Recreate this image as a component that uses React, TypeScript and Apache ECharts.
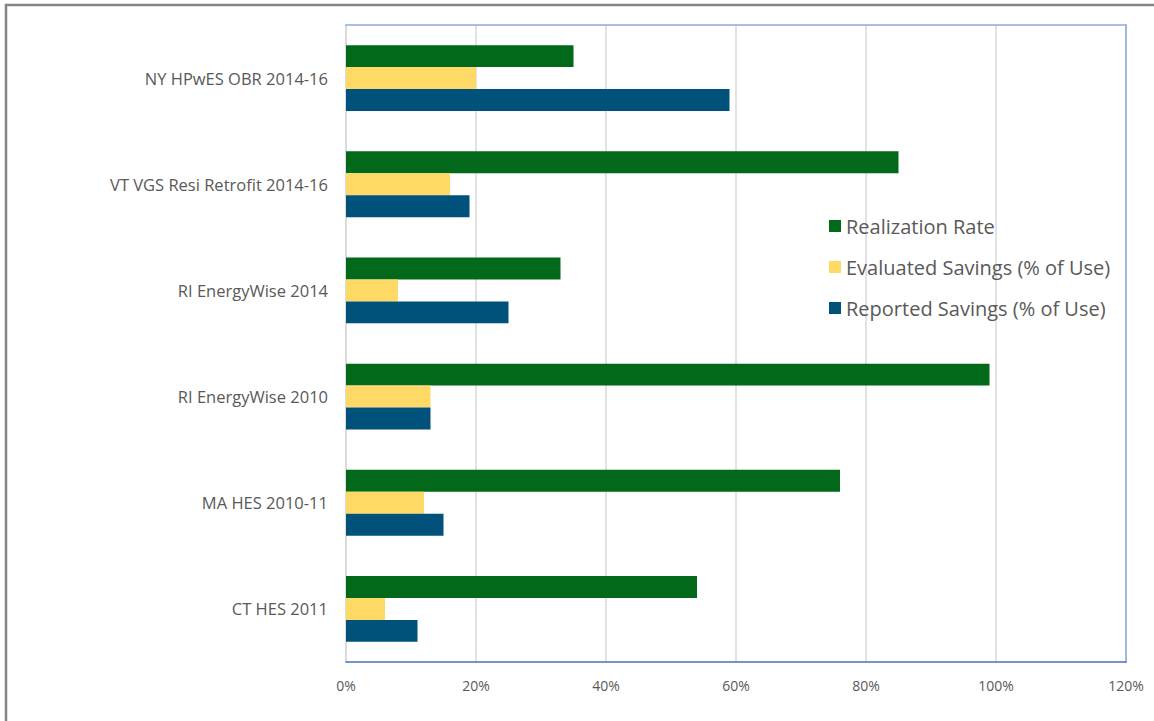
import React, { useEffect, useRef } from "react";
import * as echarts from "echarts";

const categories = [
  "CT HES 2011",
  "MA HES 2010-11",
  "RI EnergyWise 2010",
  "RI EnergyWise 2014",
  "VT VGS Resi Retrofit 2014-16",
  "NY HPwES OBR 2014-16",
];
const reportedSavings = [11, 15, 13, 25, 19, 59];
const evaluatedSavings = [6, 12, 13, 8, 16, 20];
const realizationRate = [54, 76, 99, 33, 85, 35];
const xTicks = { min: 0, max: 120, interval: 20 };

const FONT = "'Open Sans', 'Noto Sans', sans-serif";
const TEXT = "#595959";

export default function App() {
  const ref = useRef<HTMLDivElement>(null);
  useEffect(() => {
    if (!ref.current) return;
    const chart = echarts.init(ref.current, undefined, { renderer: "svg" });
    chart.setOption({
      animation: false,
      backgroundColor: "#ffffff",
      textStyle: { fontFamily: FONT },
      graphic: [
        {
          type: "rect",
          shape: { x: 6, y: 5, width: 1300, height: 900 },
          style: { fill: "none", stroke: "#858585", lineWidth: 2.5 },
          silent: true,
        },
      ],
      grid: { left: 346, right: 28, top: 25, bottom: 59, containLabel: false },
      legend: {
        orient: "vertical",
        left: 824,
        top: 211,
        itemWidth: 12,
        itemHeight: 12,
        itemGap: 21,
        icon: "rect",
        data: ["Realization Rate", "Evaluated Savings (% of Use)", "Reported Savings (% of Use)"],
        textStyle: { color: TEXT, fontSize: 20, fontFamily: FONT },
      },
      xAxis: [
        {
          type: "value",
          min: xTicks.min,
          max: xTicks.max,
          interval: xTicks.interval,
          axisLine: { show: true, lineStyle: { color: "#4472c4", width: 1.5 } },
          axisTick: { show: false },
          axisLabel: {
            formatter: "{value}%",
            color: TEXT,
            fontSize: 14,
            margin: 16,
            fontFamily: FONT,
          },
          splitLine: { show: true, lineStyle: { color: "#d9d9d9", width: 1.5 } },
        },
        {
          type: "value",
          position: "top",
          min: xTicks.min,
          max: xTicks.max,
          interval: xTicks.interval,
          axisLine: { show: true, onZero: false, lineStyle: { color: "#8faadc", width: 1.5 } },
          axisTick: { show: false },
          axisLabel: { show: false },
          splitLine: { show: false },
        },
      ],
      yAxis: [
        {
          type: "category",
          data: categories,
          axisLine: { show: true, onZero: false, lineStyle: { color: "#d9d9d9", width: 1.5 } },
          axisTick: { show: false },
          axisLabel: { color: TEXT, fontSize: 16.5, margin: 18, fontFamily: FONT },
        },
        {
          type: "category",
          position: "right",
          data: categories,
          axisLine: { show: true, onZero: false, lineStyle: { color: "#8faadc", width: 1.5 } },
          axisTick: { show: false },
          axisLabel: { show: false },
        },
      ],
      series: [
        {
          name: "Realization Rate",
          type: "bar",
          data: realizationRate,
          itemStyle: { color: "#02691b" },
          barGap: "0%",
          barCategoryGap: "38%",
        },
        {
          name: "Evaluated Savings (% of Use)",
          type: "bar",
          data: evaluatedSavings,
          itemStyle: { color: "#ffd966" },
          barGap: "0%",
          barCategoryGap: "38%",
        },
        {
          name: "Reported Savings (% of Use)",
          type: "bar",
          data: reportedSavings,
          itemStyle: { color: "#00527a" },
          barGap: "0%",
          barCategoryGap: "38%",
        },
      ],
    });
    return () => chart.dispose();
  }, []);
  return (
    <div
      ref={ref}
      style={{ position: "fixed", left: 0, top: 0, width: 1154, height: 721 }}
    />
  );
}
